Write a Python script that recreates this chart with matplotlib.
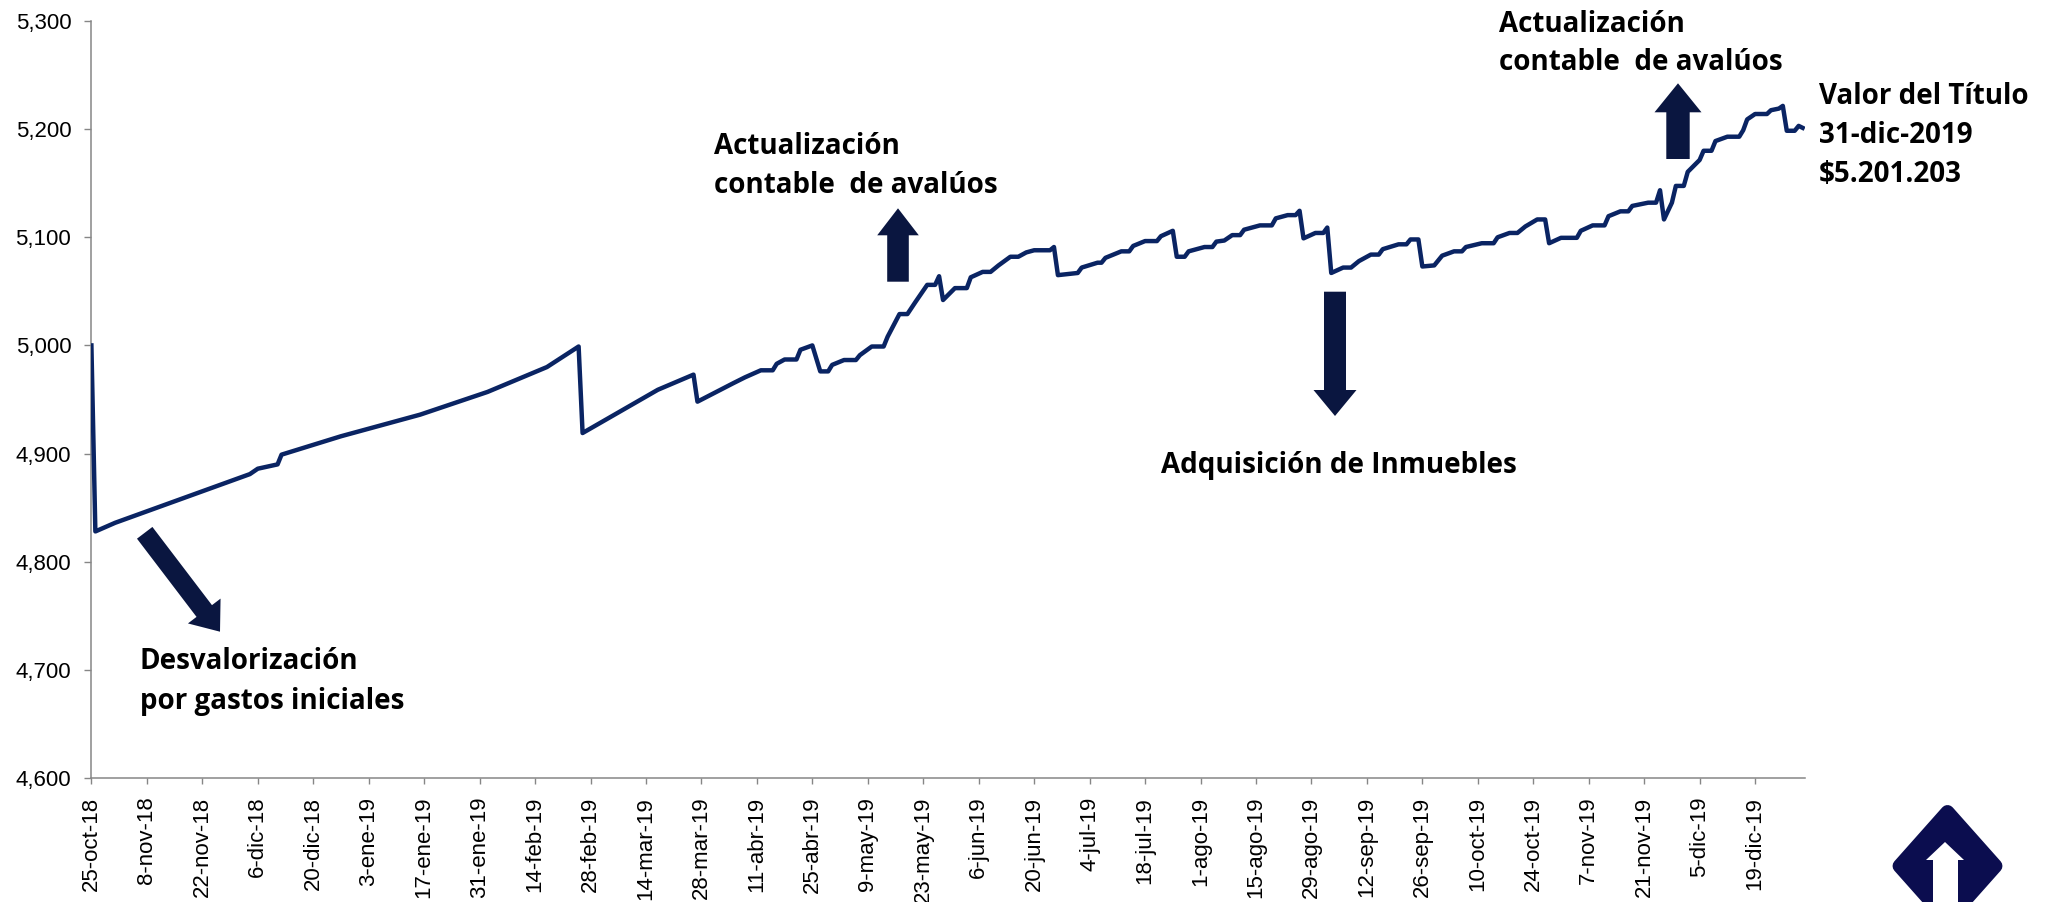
import matplotlib
matplotlib.use("Agg")
import matplotlib.pyplot as plt
import matplotlib.dates as mdates
from matplotlib.patches import Polygon
from matplotlib.ticker import FuncFormatter
import pandas as pd
import math

# ---------------- data ----------------
fecha_inicio = "2018-10-25"
# days since 25-oct-2018 (vertices of the daily series) and value of the unit
dias = [0, 1, 6, 40, 42, 47, 48, 63, 69, 83, 100, 115, 123, 124, 143, 152, 153,
        162, 165, 169, 172, 173, 175, 178, 179, 182, 184, 186, 187, 190, 193, 194,
        197, 200, 201, 204, 206, 208, 211, 213, 214, 215, 218, 221, 222, 225, 227,
        229, 232, 234, 236, 238, 242, 243, 244, 249, 250, 254, 255, 256, 260, 262,
        263, 266, 269, 270, 273, 274, 276, 277, 281, 283, 284, 286, 288, 290, 291,
        295, 298, 299, 302, 304, 305, 306, 309, 311, 312, 313, 316, 318, 320, 323,
        325, 326, 330, 332, 333, 335, 336, 339, 341, 344, 346, 347, 351, 354, 355,
        358, 360, 362, 365, 367, 368, 371, 375, 376, 379, 382, 383, 386, 388, 389,
        393, 395, 396, 397, 399, 400, 402, 403, 406, 407, 409, 410, 413, 416, 417,
        418, 420, 423, 424, 426, 427, 428, 430, 431, 432]
valores = [5000, 4828, 4836, 4881, 4886, 4890, 4899, 4916, 4922, 4936, 4957, 4980, 4999, 4919, 4959, 4973, 4948,
           4965, 4970.5, 4977, 4977, 4983, 4987, 4987, 4996, 5000, 4976, 4976, 4982, 4986.5, 4986.5, 4991,
           4999, 4999, 5008, 5029, 5029, 5040, 5056, 5056, 5064, 5042, 5053, 5053, 5063, 5068, 5068,
           5074, 5082, 5082, 5086, 5088, 5088, 5091, 5065, 5067, 5072, 5076.5, 5076.5, 5081, 5087, 5087,
           5092, 5096.5, 5096.5, 5101, 5106, 5082, 5082, 5087, 5091, 5091, 5096, 5097, 5102, 5102, 5107,
           5111, 5111, 5117.5, 5120.5, 5120.5, 5124.5, 5099, 5104, 5104, 5109, 5067, 5072, 5072, 5078, 5084,
           5084, 5089, 5093.5, 5093.5, 5098, 5098, 5073, 5074, 5083, 5087, 5087, 5091, 5094.5, 5094.5, 5100,
           5104, 5104, 5110, 5116.5, 5116.5, 5094.5, 5099.5, 5099.5, 5106, 5111, 5111, 5119.5, 5124, 5124, 5129,
           5132, 5132, 5143.5, 5116.5, 5132, 5147.5, 5147.5, 5160.5, 5171.5, 5180, 5180, 5189, 5193, 5193, 5199,
           5209, 5214, 5214, 5217.5, 5219, 5221.5, 5198.5, 5198.5, 5203, 5201.203]

tick_fechas = ["2018-10-25", "2018-11-08", "2018-11-22", "2018-12-06", "2018-12-20",
               "2019-01-03", "2019-01-17", "2019-01-31", "2019-02-14", "2019-02-28",
               "2019-03-14", "2019-03-28", "2019-04-11", "2019-04-25", "2019-05-09",
               "2019-05-23", "2019-06-06", "2019-06-20", "2019-07-04", "2019-07-18",
               "2019-08-01", "2019-08-15", "2019-08-29", "2019-09-12", "2019-09-26",
               "2019-10-10", "2019-10-24", "2019-11-07", "2019-11-21", "2019-12-05",
               "2019-12-19"]
tick_etiquetas = ["25-oct-18", "8-nov-18", "22-nov-18", "6-dic-18", "20-dic-18",
                  "3-ene-19", "17-ene-19", "31-ene-19", "14-feb-19", "28-feb-19",
                  "14-mar-19", "28-mar-19", "11-abr-19", "25-abr-19", "9-may-19",
                  "23-may-19", "6-jun-19", "20-jun-19", "4-jul-19", "18-jul-19",
                  "1-ago-19", "15-ago-19", "29-ago-19", "12-sep-19", "26-sep-19",
                  "10-oct-19", "24-oct-19", "7-nov-19", "21-nov-19", "5-dic-19",
                  "19-dic-19"]
y_ticks = [4600, 4700, 4800, 4900, 5000, 5100, 5200, 5300]

# ---------------- figure ----------------
W, H = 2048, 902
fig = plt.figure(figsize=(W / 100, H / 100), dpi=100)
ax = fig.add_axes([91.4 / W, (H - 778) / H, (1804.6 - 91.4) / W, (778 - 21) / H])

base = pd.Timestamp(fecha_inicio)
x = base + pd.to_timedelta(dias, unit="D")
ax.plot(x, valores, color="#0a2463", lw=3.2, solid_joinstyle="round", zorder=3)

ax.set_xlim(mdates.date2num(base), mdates.date2num(base) + 432.5)
ax.set_ylim(4600, 5300)
ax.set_yticks(y_ticks)
ax.yaxis.set_major_formatter(FuncFormatter(lambda v, p: f"{int(v):,}"))
ax.set_xticks(mdates.date2num(pd.to_datetime(tick_fechas)))
ax.set_xticklabels(tick_etiquetas, rotation=90, va="top", ha="center")

gris = "#868686"
for s in ["top", "right"]:
    ax.spines[s].set_visible(False)
for s in ["left", "bottom"]:
    ax.spines[s].set_color(gris)
    ax.spines[s].set_linewidth(1.1)
ax.tick_params(axis="y", direction="out", length=5, width=1, color=gris,
               pad=9.5, labelsize=16, labelcolor="black")
ax.tick_params(axis="x", direction="out", length=4.5, width=1, color=gris,
               pad=9, labelsize=16, labelcolor="black")
for lab in ax.get_xticklabels() + ax.get_yticklabels():
    lab.set_family(["Liberation Sans", "DejaVu Sans"])

# ---------------- annotations ----------------
def fx(px):
    return px / W

def fy(py):
    return (H - py) / H

fs = 20
fam = ["Open Sans", "DejaVu Sans"]

def texto(xpx, ypx, s):
    fig.text(fx(xpx), fy(ypx), s, fontsize=fs, fontweight="bold", family=fam,
             ha="left", va="baseline", color="black")

texto(140, 669, "Desvalorización")
texto(140, 709, "por gastos iniciales")
texto(714, 154, "Actualización")
texto(714, 193, "contable  de avalúos")
texto(1499, 32.5, "Actualización")
texto(1499, 70.5, "contable  de avalúos")
texto(1819, 104, "Valor del Título")
texto(1819, 143, "31-dic-2019")
texto(1819, 182, "$5.201.203")
texto(1161, 473, "Adquisición de Inmuebles")

azul_flecha = "#0a1640"

def flecha(x0, y0, x1, y1, ancho, ancho_cab, largo_cab):
    dx, dy = x1 - x0, y1 - y0
    L = math.hypot(dx, dy)
    ux, uy = dx / L, dy / L
    nx, ny = -uy, ux
    bx, by = x1 - ux * largo_cab, y1 - uy * largo_cab
    a, b = ancho / 2, ancho_cab / 2
    pts = [(x0 + nx * a, y0 + ny * a), (bx + nx * a, by + ny * a),
           (bx + nx * b, by + ny * b), (x1, y1),
           (bx - nx * b, by - ny * b), (bx - nx * a, by - ny * a),
           (x0 - nx * a, y0 - ny * a)]
    poly = Polygon([(fx(p[0]), fy(p[1])) for p in pts], closed=True,
                   transform=fig.transFigure, facecolor=azul_flecha,
                   edgecolor="none", zorder=5)
    fig.patches.append(poly)

flecha(144.7, 532.8, 220, 631.7, 19.4, 41, 26)      # desvalorización
flecha(898, 281.7, 898, 208.3, 21.6, 41.6, 27)       # actualización (mayo)
flecha(1335, 291.7, 1335, 416, 22, 43, 26)           # adquisición
flecha(1678, 159, 1678, 83.3, 23.4, 47, 29)          # actualización (dic)

# logo (rounded diamond with white arrow) at bottom right
logo_col = "#0b0d4f"
cx, cy = 1947.5, 866
hx, hy = 48, 54
diamante = Polygon([(fx(cx), fy(cy - hy)), (fx(cx + hx), fy(cy)),
                    (fx(cx), fy(cy + hy)), (fx(cx - hx), fy(cy))],
                   closed=True, transform=fig.transFigure, facecolor=logo_col,
                   edgecolor=logo_col, linewidth=10, joinstyle="round", zorder=5)
fig.patches.append(diamante)
flecha_logo = Polygon([(fx(1933), fy(905)), (fx(1933), fy(860)), (fx(1926), fy(860)),
                       (fx(1945), fy(842)), (fx(1964), fy(860)), (fx(1958), fy(860)),
                       (fx(1958), fy(905))], closed=True, transform=fig.transFigure,
                      facecolor="white", edgecolor="none", zorder=6)
fig.patches.append(flecha_logo)

fig.savefig("out.png", dpi=100, facecolor="white")
